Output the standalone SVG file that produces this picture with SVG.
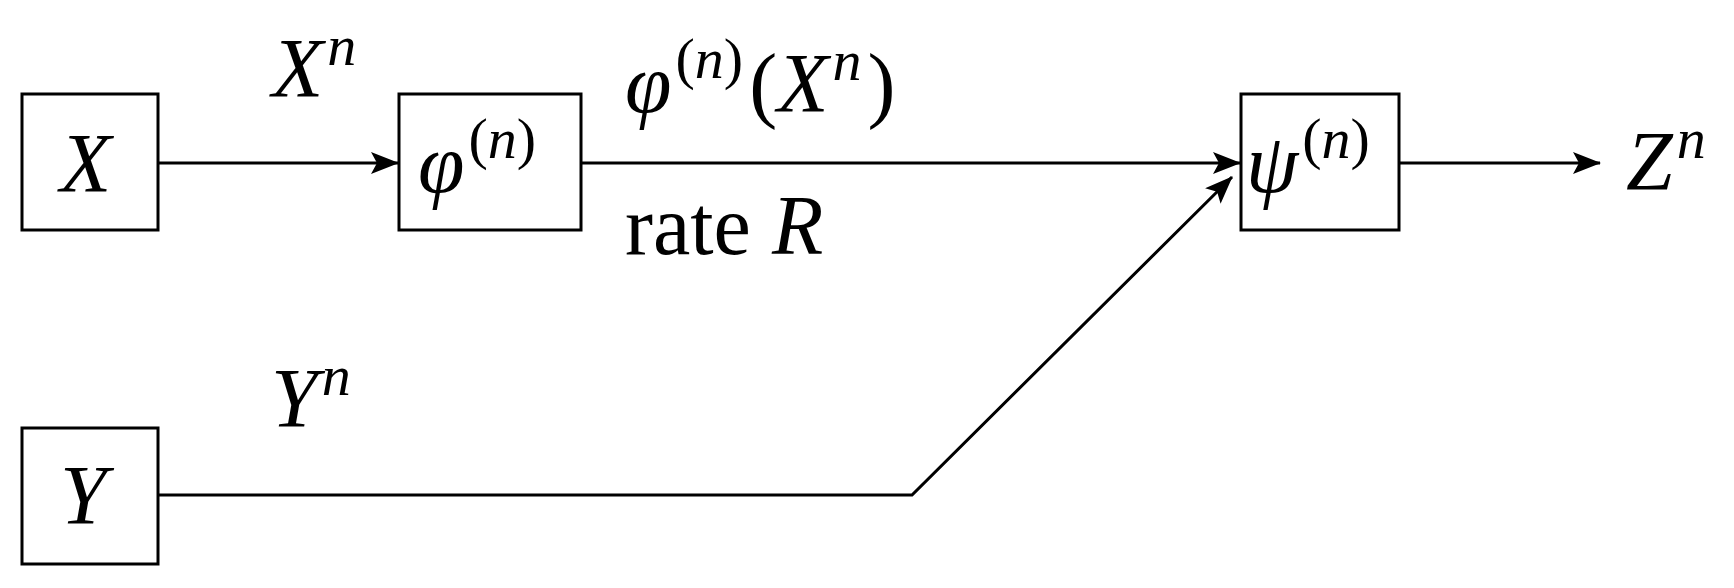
<svg xmlns="http://www.w3.org/2000/svg" width="1734" height="588" viewBox="0 0 1734 588">
<style>
.b{fill:#fff;stroke:#000;stroke-width:3}
.c{fill:none;stroke:#000;stroke-width:3}
text{font-family:"Liberation Serif",serif;font-size:84px;fill:#000}
.i{font-style:italic}
.s{font-size:58px}
</style>
<defs><marker id="a" markerWidth="28" markerHeight="22" refX="27" refY="11" orient="auto" markerUnits="userSpaceOnUse" viewBox="0 0 28 22"><path d="M0,0 L28,11 L0,22 L6,11 z"/></marker></defs>
<g id="connectors">
<path class="c" d="M158,163 H398" marker-end="url(#a)"/>
<path class="c" d="M581,163 H1240" marker-end="url(#a)"/>
<path class="c" d="M158,495 H912 L1232,177" marker-end="url(#a)"/>
<path class="c" d="M1399,163 H1600" marker-end="url(#a)"/>
</g>
<g id="X"><rect class="b" x="22" y="94" width="136" height="136"/><text class="i" x="60" y="192">X</text></g>
<g id="phi"><rect class="b" x="399" y="94" width="182" height="136"/><text x="418" y="192"><tspan class="i">φ</tspan><tspan class="s" dx="4" dy="-34">(<tspan class="i">n</tspan>)</tspan></text></g>
<g id="psi"><rect class="b" x="1241" y="94" width="158" height="136"/><text x="1246" y="192"><tspan class="i">ψ</tspan><tspan class="s" dx="4" dy="-34">(<tspan class="i">n</tspan>)</tspan></text></g>
<g id="Y"><rect class="b" x="22" y="428" width="136" height="136"/><text class="i" x="60" y="524">Y</text></g>
<g id="labels">
<text x="272" y="97"><tspan class="i">X</tspan><tspan class="s i" dx="4" dy="-32">n</tspan></text>
<text x="625" y="112"><tspan class="i">φ</tspan><tspan class="s" dx="4" dy="-34">(<tspan class="i">n</tspan>)</tspan><tspan dx="6" dy="34">(<tspan class="i">X</tspan></tspan><tspan class="s i" dx="4" dy="-32">n</tspan><tspan dx="6" dy="32">)</tspan></text>
<text x="625" y="254">rate <tspan class="i">R</tspan></text>
<text x="271" y="427"><tspan class="i">Y</tspan><tspan class="s i" dx="4" dy="-32">n</tspan></text>
<text x="1626" y="190"><tspan class="i">Z</tspan><tspan class="s i" dx="4" dy="-32">n</tspan></text>
</g>
</svg>
